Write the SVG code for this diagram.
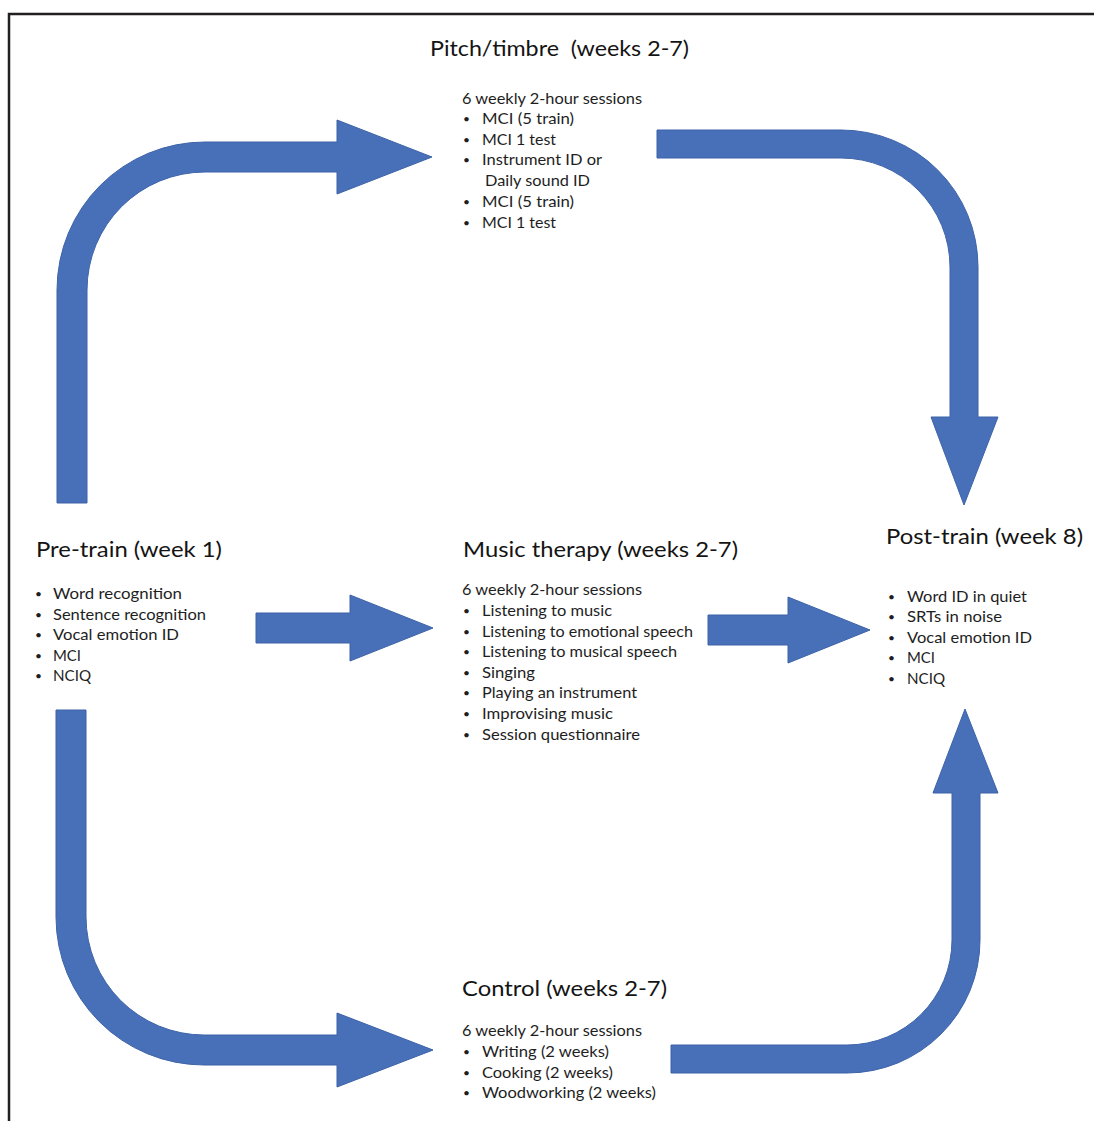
<svg xmlns="http://www.w3.org/2000/svg" width="1094" height="1121" viewBox="0 0 1094 1121">
<style>
.frame{fill:none;stroke:#231f20;stroke-width:2.5}
.arrow{fill:#4870B8;stroke:#3d63a8;stroke-width:1}
.title{font-family:Lato,"Liberation Sans",sans-serif;font-size:22px;fill:#141414}
.body{font-family:Lato,"Liberation Sans",sans-serif;font-size:15px;fill:#1e1e1e}
.bul{font-family:Lato,"Liberation Sans",sans-serif;font-size:12px;fill:#1e1e1e}
</style>
<rect width="1094" height="1121" fill="#ffffff"/>
<path class="frame" d="M 9 1121 L 9 14 L 1094 14"/>
<g id="connectors">
<path class="arrow" d="M 57 503 L 57 290 A 148 148 0 0 1 205 142 L 337 142 L 337 120 L 432 157 L 337 194 L 337 172 L 205 172 A 118 118 0 0 0 87 290 L 87 503 Z"/>
<path class="arrow" d="M 657 130 L 841 130 A 137 137 0 0 1 978 267 L 978 417 L 998 417 L 964 505 L 931 417 L 950 417 L 950 267 A 109 109 0 0 0 841 158 L 657 158 Z"/>
<path class="arrow" d="M 56 710 L 86 710 L 86 917 A 118 118 0 0 0 204 1035 L 337 1035 L 337 1013 L 433 1050 L 337 1087 L 337 1065 L 204 1065 A 148 148 0 0 1 56 917 Z"/>
<path class="arrow" d="M 671 1045 L 847 1045 A 105 105 0 0 0 952 940 L 952 793 L 933 793 L 965 709 L 998 793 L 980 793 L 980 940 A 133 133 0 0 1 847 1073 L 671 1073 Z"/>
<path class="arrow" d="M 256 613 L 350 613 L 350 595 L 433 628 L 350 661 L 350 643 L 256 643 Z"/>
<path class="arrow" d="M 708 615 L 788 615 L 788 597 L 870 630 L 788 663 L 788 645 L 708 645 Z"/>
</g>
<g id="pitch-timbre">
<text class="title" x="430" y="56" textLength="259" lengthAdjust="spacingAndGlyphs">Pitch/timbre&#160; (weeks 2-7)</text>
<text class="body" x="462" y="104" textLength="180" lengthAdjust="spacingAndGlyphs">6 weekly 2-hour sessions</text>
<text class="bul" x="463" y="123">•</text><text class="body" x="482" y="124" textLength="92" lengthAdjust="spacingAndGlyphs">MCI (5 train)</text>
<text class="bul" x="463" y="144">•</text><text class="body" x="482" y="145" textLength="74" lengthAdjust="spacingAndGlyphs">MCI 1 test</text>
<text class="bul" x="463" y="164">•</text><text class="body" x="482" y="165" textLength="120" lengthAdjust="spacingAndGlyphs">Instrument ID or</text>
<text class="body" x="485" y="186" textLength="105" lengthAdjust="spacingAndGlyphs">Daily sound ID</text>
<text class="bul" x="463" y="206">•</text><text class="body" x="482" y="207" textLength="92" lengthAdjust="spacingAndGlyphs">MCI (5 train)</text>
<text class="bul" x="463" y="227">•</text><text class="body" x="482" y="228" textLength="74" lengthAdjust="spacingAndGlyphs">MCI 1 test</text>
</g>
<g id="pre-train">
<text class="title" x="36" y="557" textLength="186" lengthAdjust="spacingAndGlyphs">Pre-train (week 1)</text>
<text class="bul" x="35" y="598">•</text><text class="body" x="53" y="599" textLength="129" lengthAdjust="spacingAndGlyphs">Word recognition</text>
<text class="bul" x="35" y="619">•</text><text class="body" x="53" y="620" textLength="153" lengthAdjust="spacingAndGlyphs">Sentence recognition</text>
<text class="bul" x="35" y="639">•</text><text class="body" x="53" y="640" textLength="126" lengthAdjust="spacingAndGlyphs">Vocal emotion ID</text>
<text class="bul" x="35" y="660">•</text><text class="body" x="53" y="661" textLength="28" lengthAdjust="spacingAndGlyphs">MCI</text>
<text class="bul" x="35" y="680">•</text><text class="body" x="53" y="681" textLength="38" lengthAdjust="spacingAndGlyphs">NCIQ</text>
</g>
<g id="music-therapy">
<text class="title" x="463" y="557" textLength="275" lengthAdjust="spacingAndGlyphs">Music therapy (weeks 2-7)</text>
<text class="body" x="462" y="595" textLength="180" lengthAdjust="spacingAndGlyphs">6 weekly 2-hour sessions</text>
<text class="bul" x="463" y="615">•</text><text class="body" x="482" y="616" textLength="130" lengthAdjust="spacingAndGlyphs">Listening to music</text>
<text class="bul" x="463" y="636">•</text><text class="body" x="482" y="637" textLength="211" lengthAdjust="spacingAndGlyphs">Listening to emotional speech</text>
<text class="bul" x="463" y="656">•</text><text class="body" x="482" y="657" textLength="195" lengthAdjust="spacingAndGlyphs">Listening to musical speech</text>
<text class="bul" x="463" y="677">•</text><text class="body" x="482" y="678" textLength="53" lengthAdjust="spacingAndGlyphs">Singing</text>
<text class="bul" x="463" y="697">•</text><text class="body" x="482" y="698" textLength="155" lengthAdjust="spacingAndGlyphs">Playing an instrument</text>
<text class="bul" x="463" y="718">•</text><text class="body" x="482" y="719" textLength="131" lengthAdjust="spacingAndGlyphs">Improvising music</text>
<text class="bul" x="463" y="739">•</text><text class="body" x="482" y="740" textLength="158" lengthAdjust="spacingAndGlyphs">Session questionnaire</text>
</g>
<g id="post-train">
<text class="title" x="886" y="544" textLength="197" lengthAdjust="spacingAndGlyphs">Post-train (week 8)</text>
<text class="bul" x="888" y="601">•</text><text class="body" x="907" y="602" textLength="120" lengthAdjust="spacingAndGlyphs">Word ID in quiet</text>
<text class="bul" x="888" y="621">•</text><text class="body" x="907" y="622" textLength="95" lengthAdjust="spacingAndGlyphs">SRTs in noise</text>
<text class="bul" x="888" y="642">•</text><text class="body" x="907" y="643" textLength="125" lengthAdjust="spacingAndGlyphs">Vocal emotion ID</text>
<text class="bul" x="888" y="662">•</text><text class="body" x="907" y="663" textLength="28" lengthAdjust="spacingAndGlyphs">MCI</text>
<text class="bul" x="888" y="683">•</text><text class="body" x="907" y="684" textLength="38" lengthAdjust="spacingAndGlyphs">NCIQ</text>
</g>
<g id="control">
<text class="title" x="462" y="996" textLength="205" lengthAdjust="spacingAndGlyphs">Control (weeks 2-7)</text>
<text class="body" x="462" y="1036" textLength="180" lengthAdjust="spacingAndGlyphs">6 weekly 2-hour sessions</text>
<text class="bul" x="463" y="1056">•</text><text class="body" x="482" y="1057" textLength="127" lengthAdjust="spacingAndGlyphs">Writing (2 weeks)</text>
<text class="bul" x="463" y="1077">•</text><text class="body" x="482" y="1078" textLength="131" lengthAdjust="spacingAndGlyphs">Cooking (2 weeks)</text>
<text class="bul" x="463" y="1097">•</text><text class="body" x="482" y="1098" textLength="174" lengthAdjust="spacingAndGlyphs">Woodworking (2 weeks)</text>
</g>
</svg>
